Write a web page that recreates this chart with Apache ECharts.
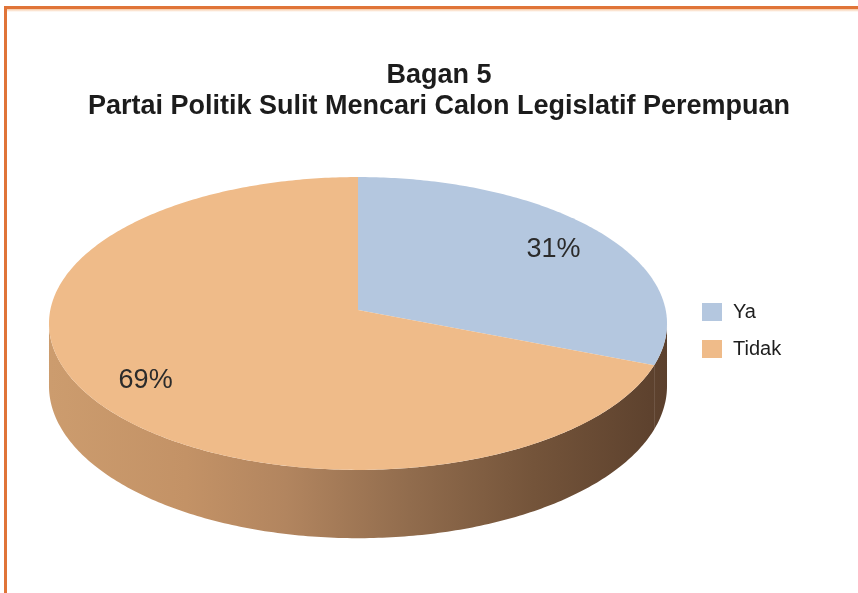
<!DOCTYPE html>
<html>
<head>
<meta charset="utf-8">
<title>Bagan 5</title>
<script src="https://cdn.jsdelivr.net/npm/echarts@6/dist/echarts.min.js"></script>
<style>
  html, body { margin: 0; padding: 0; background: #ffffff; }
  #chart { width: 858px; height: 593px; }
</style>
</head>
<body>
<div id="chart"></div>
<script>
// Survey answers (percent of respondents)
const categories = ['Ya', 'Tidak'];
const shares = [31, 69];

const total = shares.reduce((s, v) => s + v, 0);

// Tilted-disc geometry: centre, horizontal/vertical radii, perspective factor, wall height
const PIE = { cx: 358, cy: 310, a: 307.7, b: 145.2, k: 0.092, depth: 62 };
const FACE_COLORS = ['#b4c7df', '#efbb89'];
const WALL_FILL = {
  type: 'linear', x: 50, y: 0, x2: 670, y2: 0, global: true,
  colorStops: [
    { offset: 0.00, color: '#cc9c6e' },
    { offset: 0.22, color: '#c39266' },
    { offset: 0.38, color: '#b2855f' },
    { offset: 0.58, color: '#916c4d' },
    { offset: 0.78, color: '#74543a' },
    { offset: 1.00, color: '#5a3f2c' }
  ]
};
const FONT = '"Liberation Sans", Arial, sans-serif';

// Project an angle on the disc (r = fraction of radius, dz = drop below the top face)
function project(theta, r, dz) {
  const s = Math.sin(theta), c = Math.cos(theta);
  const w = 1 + PIE.k * r * s;
  return [PIE.cx + PIE.a * r * c / w, PIE.cy + (-PIE.b * r * s + dz) / w];
}

function arc(t0, t1, r, dz) {
  const steps = Math.max(2, Math.ceil(Math.abs(t1 - t0) / (Math.PI / 240)));
  const pts = [];
  for (let i = 0; i <= steps; i++) {
    pts.push(project(t0 + (t1 - t0) * i / steps, r, dz));
  }
  return pts;
}

function renderSlice(params, api) {
  const idx = params.seriesIndex;
  const value = api.value(0);
  let before = 0;
  for (let j = 0; j < idx; j++) before += shares[j];

  // clockwise from 12 o'clock
  const a0 = Math.PI / 2 - 2 * Math.PI * before / total;
  const a1 = a0 - 2 * Math.PI * value / total;
  const color = api.visual('color');
  const children = [];

  // visible front wall lies between the two silhouette angles
  const sHi = -Math.asin(PIE.k);
  const sLo = -Math.PI + Math.asin(PIE.k);
  [0, -2 * Math.PI, 2 * Math.PI].forEach(shift => {
    const lo = Math.max(a1 + shift, sLo);
    const hi = Math.min(a0 + shift, sHi);
    if (lo < hi) {
      const pts = arc(lo, hi, 1, 0).concat(arc(hi, lo, 1, PIE.depth));
      children.push({
        type: 'polygon',
        shape: { points: pts },
        style: { fill: WALL_FILL, stroke: null },
        z2: 1
      });
    }
  });

  // top face
  children.push({
    type: 'polygon',
    shape: { points: [project(0, 0, 0)].concat(arc(a0, a1, 1, 0)) },
    style: { fill: color, stroke: null },
    z2: 10
  });

  // percentage label
  const mid = (a0 + a1) / 2;
  const p = project(mid, 0.8, 0);
  children.push({
    type: 'text',
    x: p[0],
    y: p[1] + 2,
    style: {
      text: value + '%',
      align: 'center',
      verticalAlign: 'middle',
      font: '27px ' + FONT,
      fill: '#2b2b2b'
    },
    z2: 20
  });

  return { type: 'group', children };
}

const chart = echarts.init(document.getElementById('chart'), null, { renderer: 'canvas' });

chart.setOption({
  backgroundColor: '#ffffff',
  animation: false,
  title: {
    text: 'Bagan 5\nPartai Politik Sulit Mencari Calon Legislatif Perempuan',
    left: 439,
    top: 60,
    textAlign: 'center',
    padding: 0,
    textStyle: {
      fontFamily: FONT,
      fontSize: 27,
      fontWeight: 'bold',
      lineHeight: 31,
      color: '#1c1c1c'
    }
  },
  legend: {
    data: categories,
    orient: 'vertical',
    left: 702,
    top: 302,
    padding: 0,
    icon: 'rect',
    itemWidth: 20,
    itemHeight: 18,
    itemGap: 17,
    selectedMode: false,
    textStyle: {
      fontFamily: FONT,
      fontSize: 20,
      color: '#1e1e1e',
      padding: [0, 0, 0, 6]
    }
  },
  graphic: [
    { type: 'rect', shape: { x: 4, y: 6, width: 854, height: 3 }, style: { fill: '#e07438' } },
    {
      type: 'rect', shape: { x: 7, y: 9, width: 851, height: 3 },
      style: {
        fill: { type: 'linear', x: 0, y: 0, x2: 0, y2: 1,
          colorStops: [{ offset: 0, color: '#f7c8a2' }, { offset: 1, color: '#ffffff' }] }
      }
    },
    { type: 'rect', shape: { x: 4, y: 6, width: 3, height: 587 }, style: { fill: '#e07438' } }
  ],
  series: categories.map((name, i) => ({
    type: 'custom',
    name: name,
    coordinateSystem: 'none',
    silent: true,
    itemStyle: { color: FACE_COLORS[i] },
    renderItem: renderSlice,
    data: [[shares[i]]]
  }))
});
</script>
</body>
</html>
